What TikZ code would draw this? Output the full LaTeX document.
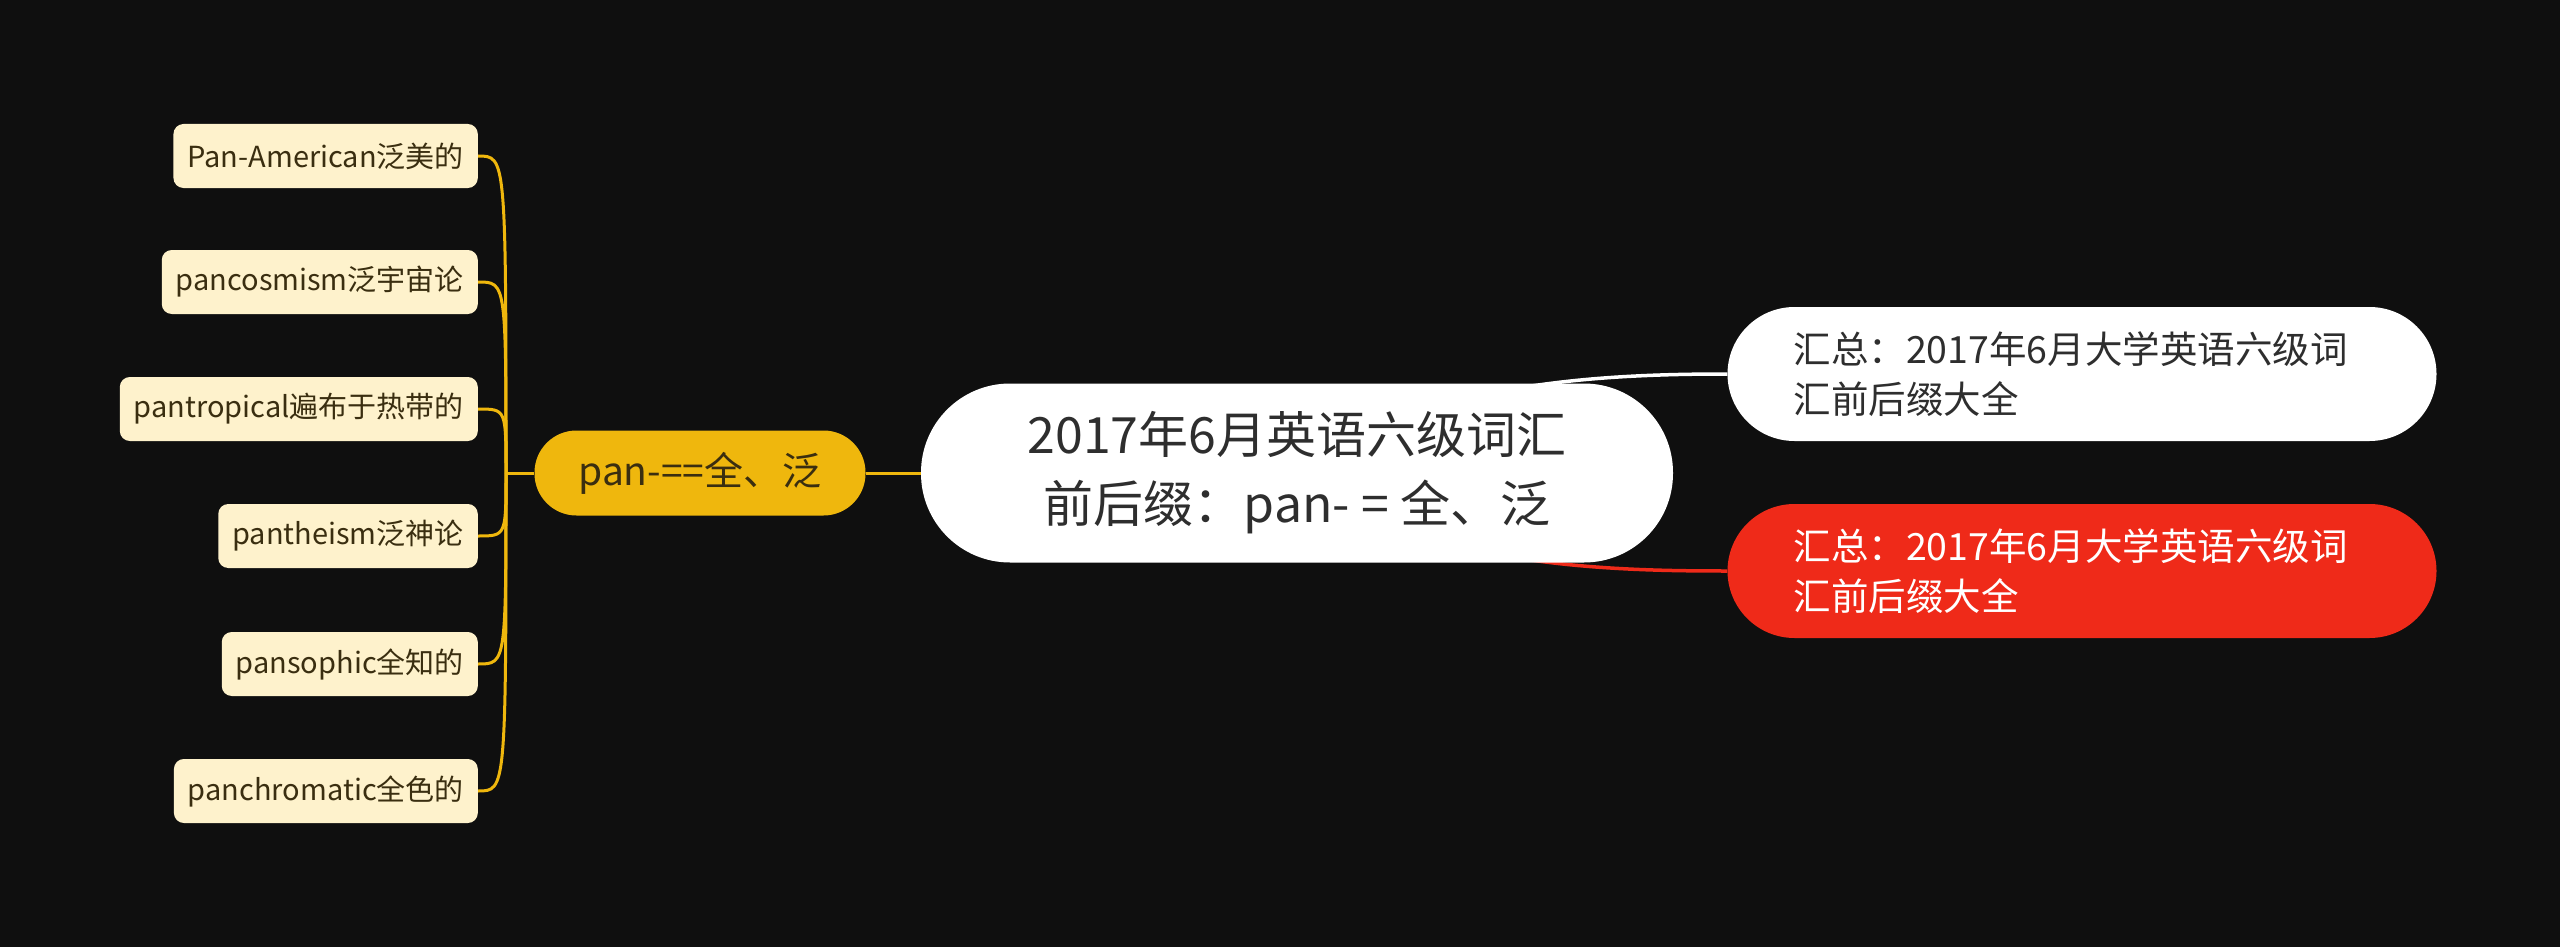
\documentclass[tikz,border=0pt]{standalone}
\usepackage{fontspec}
\setmainfont{Noto Sans CJK SC}
\usetikzlibrary{backgrounds}
\definecolor{bgc}{HTML}{0F0F0F}
\definecolor{leafc}{HTML}{FEF2CC}
\definecolor{leaftext}{HTML}{3A2E10}
\definecolor{yelc}{HTML}{EFB70D}
\definecolor{redc}{HTML}{EF2A19}
\definecolor{darktext}{HTML}{2E2E2E}
\begin{document}
\begin{tikzpicture}[x=1pt,y=-1pt,
  leaf/.style={fill=leafc, rounded corners=10pt, inner xsep=14pt, inner ysep=0pt,
    minimum height=64pt, font=\fontsize{29}{32}\selectfont, text=leaftext, anchor=east},
  yelnode/.style={fill=yelc, rounded corners=42pt, minimum width=331pt, minimum height=85pt,
    inner sep=0pt, font=\fontsize{39}{44}\selectfont, text=leaftext},
  cennode/.style={fill=white, rounded corners=89pt, minimum width=752pt, minimum height=179pt,
    inner sep=0pt, align=center, font=\fontsize{50}{69}\selectfont, text=darktext},
  sidenode/.style={rounded corners=67pt, minimum width=709pt, minimum height=134pt,
    inner xsep=66pt, inner ysep=0pt, text width=577pt, align=left, font=\fontsize{37.5}{50}\selectfont},
  yl/.style={draw=yelc, line width=3pt},
]
\begin{pgfonlayer}{background}
\fill[bgc] (0,0) rectangle (2560,947);
\end{pgfonlayer}
\useasboundingbox (0,0) rectangle (2560,947);

\node[cennode] (cen) at (1297,473) {2017年6月英语六级词汇\\前后缀：pan- = 全、泛};
\node[yelnode] (yel) at (700,473) {pan-==全、泛};
\node[sidenode, fill=white, text=darktext] (sw) at (2082,374) {汇总：2017年6月大学英语六级词\\汇前后缀大全};
\node[sidenode, fill=redc, text=white] (sr) at (2082,571) {汇总：2017年6月大学英语六级词\\汇前后缀大全};

\node[leaf] (l1) at (478,156) {Pan-American泛美的};
\node[leaf] (l2) at (478,282) {pancosmism泛宇宙论};
\node[leaf] (l3) at (478,409) {pantropical遍布于热带的};
\node[leaf] (l4) at (478,536) {pantheism泛神论};
\node[leaf] (l5) at (478,664) {pansophic全知的};
\node[leaf] (l6) at (478,791) {panchromatic全色的};

\coordinate (hub) at (506,473);

\begin{pgfonlayer}{background}
\draw[yl] (yel.east) -- (cen.west);
\draw[yl] (yel.west) -- (hub);
\foreach \l in {l1,l2,l3,l4,l5,l6}{
  \draw[yl] (\l.east) .. controls (hub |- \l.east) .. (hub);
}
\draw[white, line width=3.5pt] (cen.center) .. controls (1420,382) and (1600,374) .. (sw.west);
\draw[redc, line width=3.5pt] (cen.center) .. controls (1420,566) and (1600,571) .. (sr.west);
\end{pgfonlayer}
\end{tikzpicture}
\end{document}
